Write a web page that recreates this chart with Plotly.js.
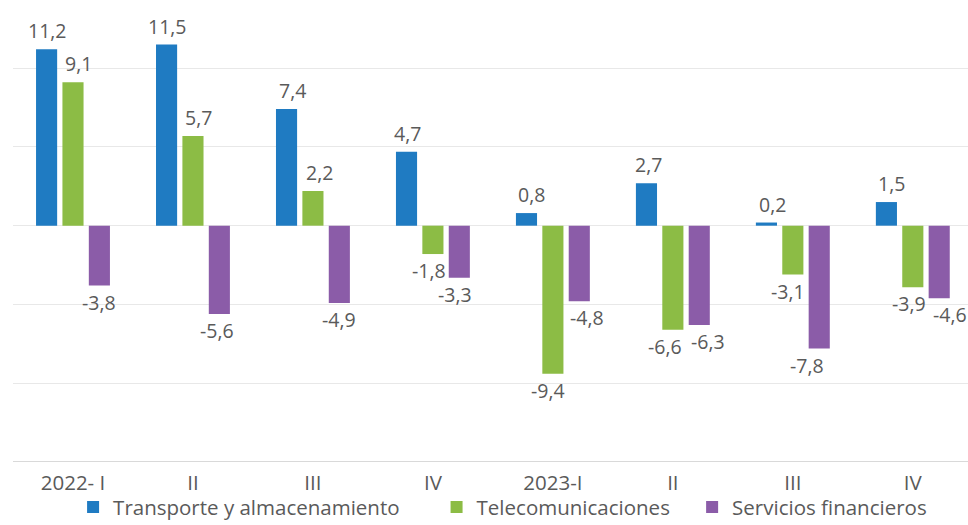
<!DOCTYPE html>
<html>
<head>
<meta charset="utf-8">
<script src="https://cdn.plot.ly/plotly-3.0.1.min.js"></script>
<style>html,body{margin:0;padding:0;background:#fff;}#chart{width:968px;height:525px;}</style>
</head>
<body>
<div id="chart"></div>
<script>
// ---- data ----
const tickLabels = ["2022- I", "II", "III", "IV", "2023-I", "II", "III", "IV"];
const transporte = [11.2, 11.5, 7.4, 4.7, 0.8, 2.7, 0.2, 1.5];
const telecom = [9.1, 5.7, 2.2, -1.8, -9.4, -6.6, -3.1, -3.9];
const financieros = [-3.8, -5.6, -4.9, -3.3, -4.8, -6.3, -7.8, -4.6];
const seriesNames = ["Transporte y almacenamiento", "Telecomunicaciones", "Servicios financieros"];

// ---- style ----
const colors = ["#1f7bc2", "#8cbc45", "#8b5ca8"];
const textColor = '#5a5a5a';
const fontFam = 'Open Sans, sans-serif';
const barPitch = 26.5;           // px between bar centres in a group
// small horizontal nudges (px) of value labels, as placed in the reference
const labelNudge = [
  [1, 1, 6, 1, 5, 2, 6, 5],
  [6, 6, 7, -4, -5, -8, -5, -4],
  [0, -2, 0, -4, 8, 9, -12, 11]
];
const legendX = [0.0755, 0.451, 0.715];

const fmt = v => v.toFixed(1).replace('.', ',');
const xs = tickLabels.map((c, i) => i);
const series = [transporte, telecom, financieros];
const legendIds = ['legend', 'legend2', 'legend3'];

const data = series.map((vals, k) => ({
  type: 'bar',
  x: xs,
  y: vals,
  name: seriesNames[k],
  legend: legendIds[k],
  marker: {color: colors[k]},
  hoverinfo: 'none'
}));

const annotations = [];
series.forEach((vals, k) => {
  vals.forEach((v, i) => {
    annotations.push({
      x: i, y: v, xref: 'x', yref: 'y',
      text: fmt(v), showarrow: false,
      xanchor: 'center',
      yanchor: v >= 0 ? 'bottom' : 'top',
      xshift: (k - 1) * barPitch + labelNudge[k][i],
      yshift: v >= 0 ? 3 : -1,
      font: {family: fontFam, size: 19.5, color: textColor}
    });
  });
});

const legendBase = {
  orientation: 'h', xref: 'container', yref: 'container',
  y: 0.034, yanchor: 'middle', xanchor: 'left',
  font: {family: fontFam, size: 20.5, color: textColor},
  bgcolor: 'rgba(0,0,0,0)'
};

const layout = {
  width: 968, height: 525,
  margin: {l: 13, r: 0, t: 13, b: 63},
  paper_bgcolor: '#fff', plot_bgcolor: '#fff',
  barmode: 'group',
  bargap: 0.34,
  bargroupgap: 0.2,
  showlegend: true,
  legend: Object.assign({}, legendBase, {x: legendX[0]}),
  legend2: Object.assign({}, legendBase, {x: legendX[1]}),
  legend3: Object.assign({}, legendBase, {x: legendX[2]}),
  xaxis: {
    range: [-0.5, 7.46],
    tickmode: 'array', tickvals: xs, ticktext: tickLabels,
    tickfont: {family: fontFam, size: 20.5, color: textColor},
    ticklabelstandoff: 6,
    showgrid: false, zeroline: false,
    showline: false, ticks: '', fixedrange: true, automargin: false
  },
  yaxis: {
    range: [-15, 13.5],
    dtick: 5, tick0: 0,
    showticklabels: false,
    showgrid: true, gridcolor: '#e8e8e8', gridwidth: 1,
    zeroline: true, zerolinecolor: '#e8e8e8', zerolinewidth: 1,
    showline: false, ticks: '', fixedrange: true, automargin: false
  },
  annotations: annotations,
  shapes: [{type: 'line', xref: 'paper', yref: 'y', x0: 0, x1: 1, y0: -15, y1: -15,
            line: {color: '#d9d9d9', width: 2}}]
};

Plotly.newPlot('chart', data, layout, {displayModeBar: false, staticPlot: true});
</script>
</body>
</html>
